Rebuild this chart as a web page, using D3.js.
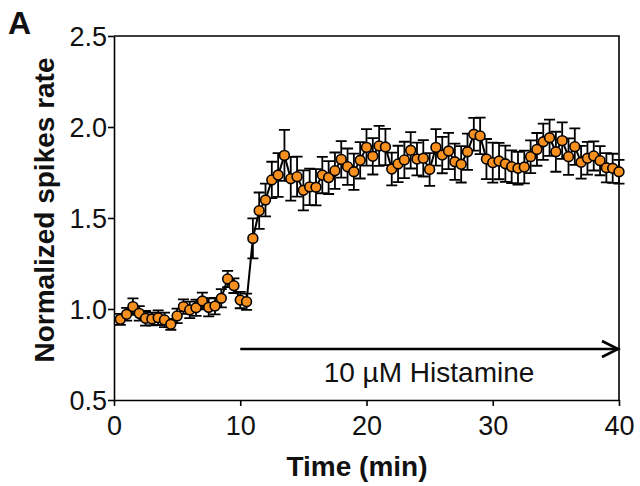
<!DOCTYPE html>
<html><head><meta charset="utf-8">
<script src="https://cdn.jsdelivr.net/npm/d3@7"></script>
<style>html,body{margin:0;padding:0;background:#fff;} svg{display:block;font-family:"Liberation Sans",Arial,sans-serif;}</style>
</head><body><svg id="c" width="640" height="486"></svg>
<script>
const times = [0.5,1,1.5,2,2.5,3,3.5,4,4.5,5,5.5,6,6.5,7,7.5,8,8.5,9,9.5,10,10.5,
 11,11.5,12,12.5,13,13.5,14,14.5,15,15.5,16,16.5,17,17.5,18,18.5,19,19.5,20,
 20.5,21,21.5,22,22.5,23,23.5,24,24.5,25,25.5,26,26.5,27,27.5,28,28.5,29,29.5,30,
 30.5,31,31.5,32,32.5,33,33.5,34,34.5,35,35.5,36,36.5,37,37.5,38,38.5,39,39.5,40];
const means = [0.943,0.971,1.013,0.976,0.949,0.945,0.952,0.940,0.916,0.962,1.013,0.995,1.007,1.044,1.009,1.016,1.059,1.165,1.128,1.049,1.040,
 1.388,1.540,1.599,1.709,1.736,1.844,1.716,1.727,1.652,1.671,1.669,1.736,1.722,1.760,1.822,1.782,1.754,1.817,1.888,
 1.839,1.896,1.890,1.769,1.797,1.819,1.872,1.824,1.828,1.767,1.888,1.846,1.868,1.809,1.795,1.864,1.960,1.951,1.824,1.804,
 1.813,1.798,1.782,1.773,1.780,1.837,1.877,1.919,1.941,1.864,1.925,1.837,1.892,1.806,1.828,1.841,1.815,1.776,1.773,1.754];
const sems = [0.03,0.035,0.045,0.04,0.04,0.035,0.04,0.04,0.03,0.04,0.04,0.045,0.045,0.046,0.05,0.045,0.05,0.045,0.04,0.045,0.045,
 0.11,0.10,0.09,0.10,0.12,0.14,0.12,0.11,0.11,0.10,0.10,0.10,0.09,0.10,0.10,0.10,0.10,0.10,0.10,
 0.10,0.11,0.10,0.09,0.10,0.10,0.10,0.09,0.10,0.09,0.10,0.10,0.10,0.10,0.10,0.10,0.09,0.10,0.11,0.11,
 0.10,0.10,0.09,0.09,0.09,0.09,0.09,0.10,0.10,0.11,0.10,0.10,0.10,0.09,0.09,0.08,0.08,0.08,0.08,0.065];
const xTicks = [0,10,20,30,40];
const yTicks = [0.5,1.0,1.5,2.0,2.5];
const xLabel = "Time (min)";
const yLabel = "Normalized spikes rate";
const panelLabel = "A";
const treatment = "10 µM Histamine";
const treatmentStart = 10, treatmentEnd = 40;

const svg = d3.select("#c");
const m = {l:114, t:36, r:21, b:86};
const W = 640, H = 486;
const x = d3.scaleLinear().domain([0,40]).range([m.l, W-m.r]);
const y = d3.scaleLinear().domain([0.5,2.5]).range([H-m.b, m.t]);
const data = times.map((t,i)=>({t, v:means[i], e:sems[i]}));

// frame top/right
svg.append("path").attr("d",`M${x(0)},${y(2.5)}H${x(40)}V${y(0.5)}`)
  .attr("fill","none").attr("stroke","#000").attr("stroke-width",1.6);

const xa = svg.append("g").attr("transform",`translate(0,${y(0.5)})`)
  .call(d3.axisBottom(x).tickValues(xTicks).tickFormat(d3.format("d")).tickSize(6).tickSizeOuter(0).tickPadding(4));
const ya = svg.append("g").attr("transform",`translate(${x(0)},0)`)
  .call(d3.axisLeft(y).tickValues(yTicks).tickFormat(d3.format(".1f")).tickSize(6).tickSizeOuter(0).tickPadding(1));
[xa,ya].forEach(g=>{
  g.selectAll("path,line").attr("stroke","#000").attr("stroke-width",1.6);
  g.selectAll("text").attr("fill","#111").attr("font-size",27).attr("font-family","Liberation Sans, Arial, sans-serif");
});
xa.selectAll("text").attr("dy","0.92em");
ya.selectAll("text").attr("dy","0.36em");

// error bars
const eb = svg.append("g").attr("stroke","#000").attr("stroke-width",1.8).attr("fill","none");
eb.selectAll("path").data(data).join("path")
  .attr("d",d=>`M${x(d.t)},${y(d.v-d.e)}V${y(d.v+d.e)}M${x(d.t)-5.5},${y(d.v+d.e)}h11M${x(d.t)-5.5},${y(d.v-d.e)}h11`);

// line
svg.append("path").datum(data)
  .attr("d", d3.line().x(d=>x(d.t)).y(d=>y(d.v)))
  .attr("fill","none").attr("stroke","#000").attr("stroke-width",2);

// points
svg.append("g").selectAll("circle").data(data).join("circle")
  .attr("cx",d=>x(d.t)).attr("cy",d=>y(d.v)).attr("r",4.9)
  .attr("fill","#F7901E").attr("stroke","#000").attr("stroke-width",1.6);

// arrow
const ay = 349;
svg.append("line").attr("x1",x(treatmentStart)).attr("x2",x(treatmentEnd)-1).attr("y1",ay).attr("y2",ay)
  .attr("stroke","#000").attr("stroke-width",2.6);
svg.append("path").attr("d",`M${x(treatmentEnd)-17},${ay-8}L${x(treatmentEnd)-1},${ay}L${x(treatmentEnd)-17},${ay+8}`)
  .attr("fill","none").attr("stroke","#000").attr("stroke-width",2.6);
svg.append("text").attr("x",429).attr("y",382)
  .attr("text-anchor","middle").attr("font-size",28).attr("fill","#111").text(treatment);

// axis titles
svg.append("text").attr("x",357).attr("y",476).attr("text-anchor","middle")
  .attr("font-size",28).attr("font-weight","bold").attr("fill","#111").text(xLabel);
svg.append("text").attr("transform",`translate(54,210) rotate(-90)`)
  .attr("text-anchor","middle").attr("font-size",28).attr("font-weight","bold").attr("fill","#111").text(yLabel);
svg.append("text").attr("x",8).attr("y",34).attr("font-size",32).attr("font-weight","bold").attr("fill","#111").text(panelLabel);
</script></body></html>
